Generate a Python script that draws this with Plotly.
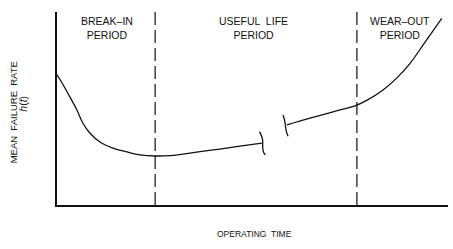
import plotly.graph_objects as go

# Operating time (x) and mean failure rate (y), arbitrary units
seg1_x = [0, 1.3, 3.3, 5.1, 6.6, 8.4, 11.0, 14.3, 17.9, 21.2, 25.1, 28.9, 32.2, 36.6, 41.7, 46.8, 52.4]
seg1_y = [67.4, 63.2, 56.0, 49.2, 42.5, 37.3, 32.6, 29.5, 27.5, 26.0, 25.4, 25.6, 26.4, 27.6, 29.0, 30.5, 32.1]
seg2_x = [58.8, 64.7, 70.6, 76.7, 79.2, 83.4, 87.0, 90.3, 94.1, 98.4]
seg2_y = [41.5, 45.0, 48.3, 51.8, 54.2, 59.6, 66.0, 73.4, 84.3, 96.7]
# break marks in the curve
brk1_x = [51.8, 52.3, 52.6, 52.6, 52.8, 53.3]
brk1_y = [38.0, 35.8, 33.5, 30.5, 27.5, 26.0]
brk2_x = [57.8, 58.2, 58.4, 58.6, 59.1]
brk2_y = [46.6, 44.0, 41.5, 38.5, 35.6]
# period boundaries
boundaries = [25.1, 76.7]
period_labels = ["BREAK–IN<br>PERIOD", "USEFUL  LIFE<br>PERIOD", "WEAR–OUT<br>PERIOD"]
period_centers = [12.8, 50.2, 87.8]

fig = go.Figure()
line_style = dict(color="#111", width=1.3)
for xs, ys in [(seg1_x, seg1_y), (seg2_x, seg2_y), (brk1_x, brk1_y), (brk2_x, brk2_y)]:
    fig.add_trace(go.Scatter(x=xs, y=ys, mode="lines", line=dict(line_style, shape="spline"),
                             showlegend=False, hoverinfo="skip"))

for b in boundaries:
    fig.add_shape(type="line", x0=b, x1=b, y0=0, y1=100, xref="x", yref="y",
                  line=dict(color="#111", width=1.2, dash="13px,5px"))

font = dict(family="Liberation Sans, Arial, sans-serif", size=10.5, color="#111")
for lab, cx in zip(period_labels, period_centers):
    fig.add_annotation(x=cx, y=99.5, xref="x", yref="y", text=lab, showarrow=False,
                       font=font, yanchor="top", align="center")

fig.add_annotation(x=-0.109, y=0.482, xref="paper", yref="paper", text="MEAN  FAILURE  RATE",
                   showarrow=False, textangle=-90, font=dict(font, size=9.5),
                   xanchor="center", yanchor="middle")
fig.add_annotation(x=-0.088, y=0.523, xref="paper", yref="paper", text="<i>h</i>(<i>t</i>)",
                   showarrow=False, textangle=-90, font=dict(font, size=10.5),
                   xanchor="center", yanchor="middle")
fig.add_annotation(x=0.504, y=-0.185, xref="paper", yref="paper", text="OPERATING  TIME",
                   showarrow=False, font=dict(font, size=8.5), xanchor="center")

fig.update_layout(
    width=453, height=249,
    margin=dict(l=57, r=5, t=12, b=44),
    paper_bgcolor="white", plot_bgcolor="white",
    xaxis=dict(range=[0, 100], showgrid=False, zeroline=False, showticklabels=False,
               showline=True, linecolor="#111", linewidth=1.5, ticks=""),
    yaxis=dict(range=[0, 100], showgrid=False, zeroline=False, showticklabels=False,
               showline=True, linecolor="#111", linewidth=1.5, ticks=""),
)
fig.write_html("out.html")
